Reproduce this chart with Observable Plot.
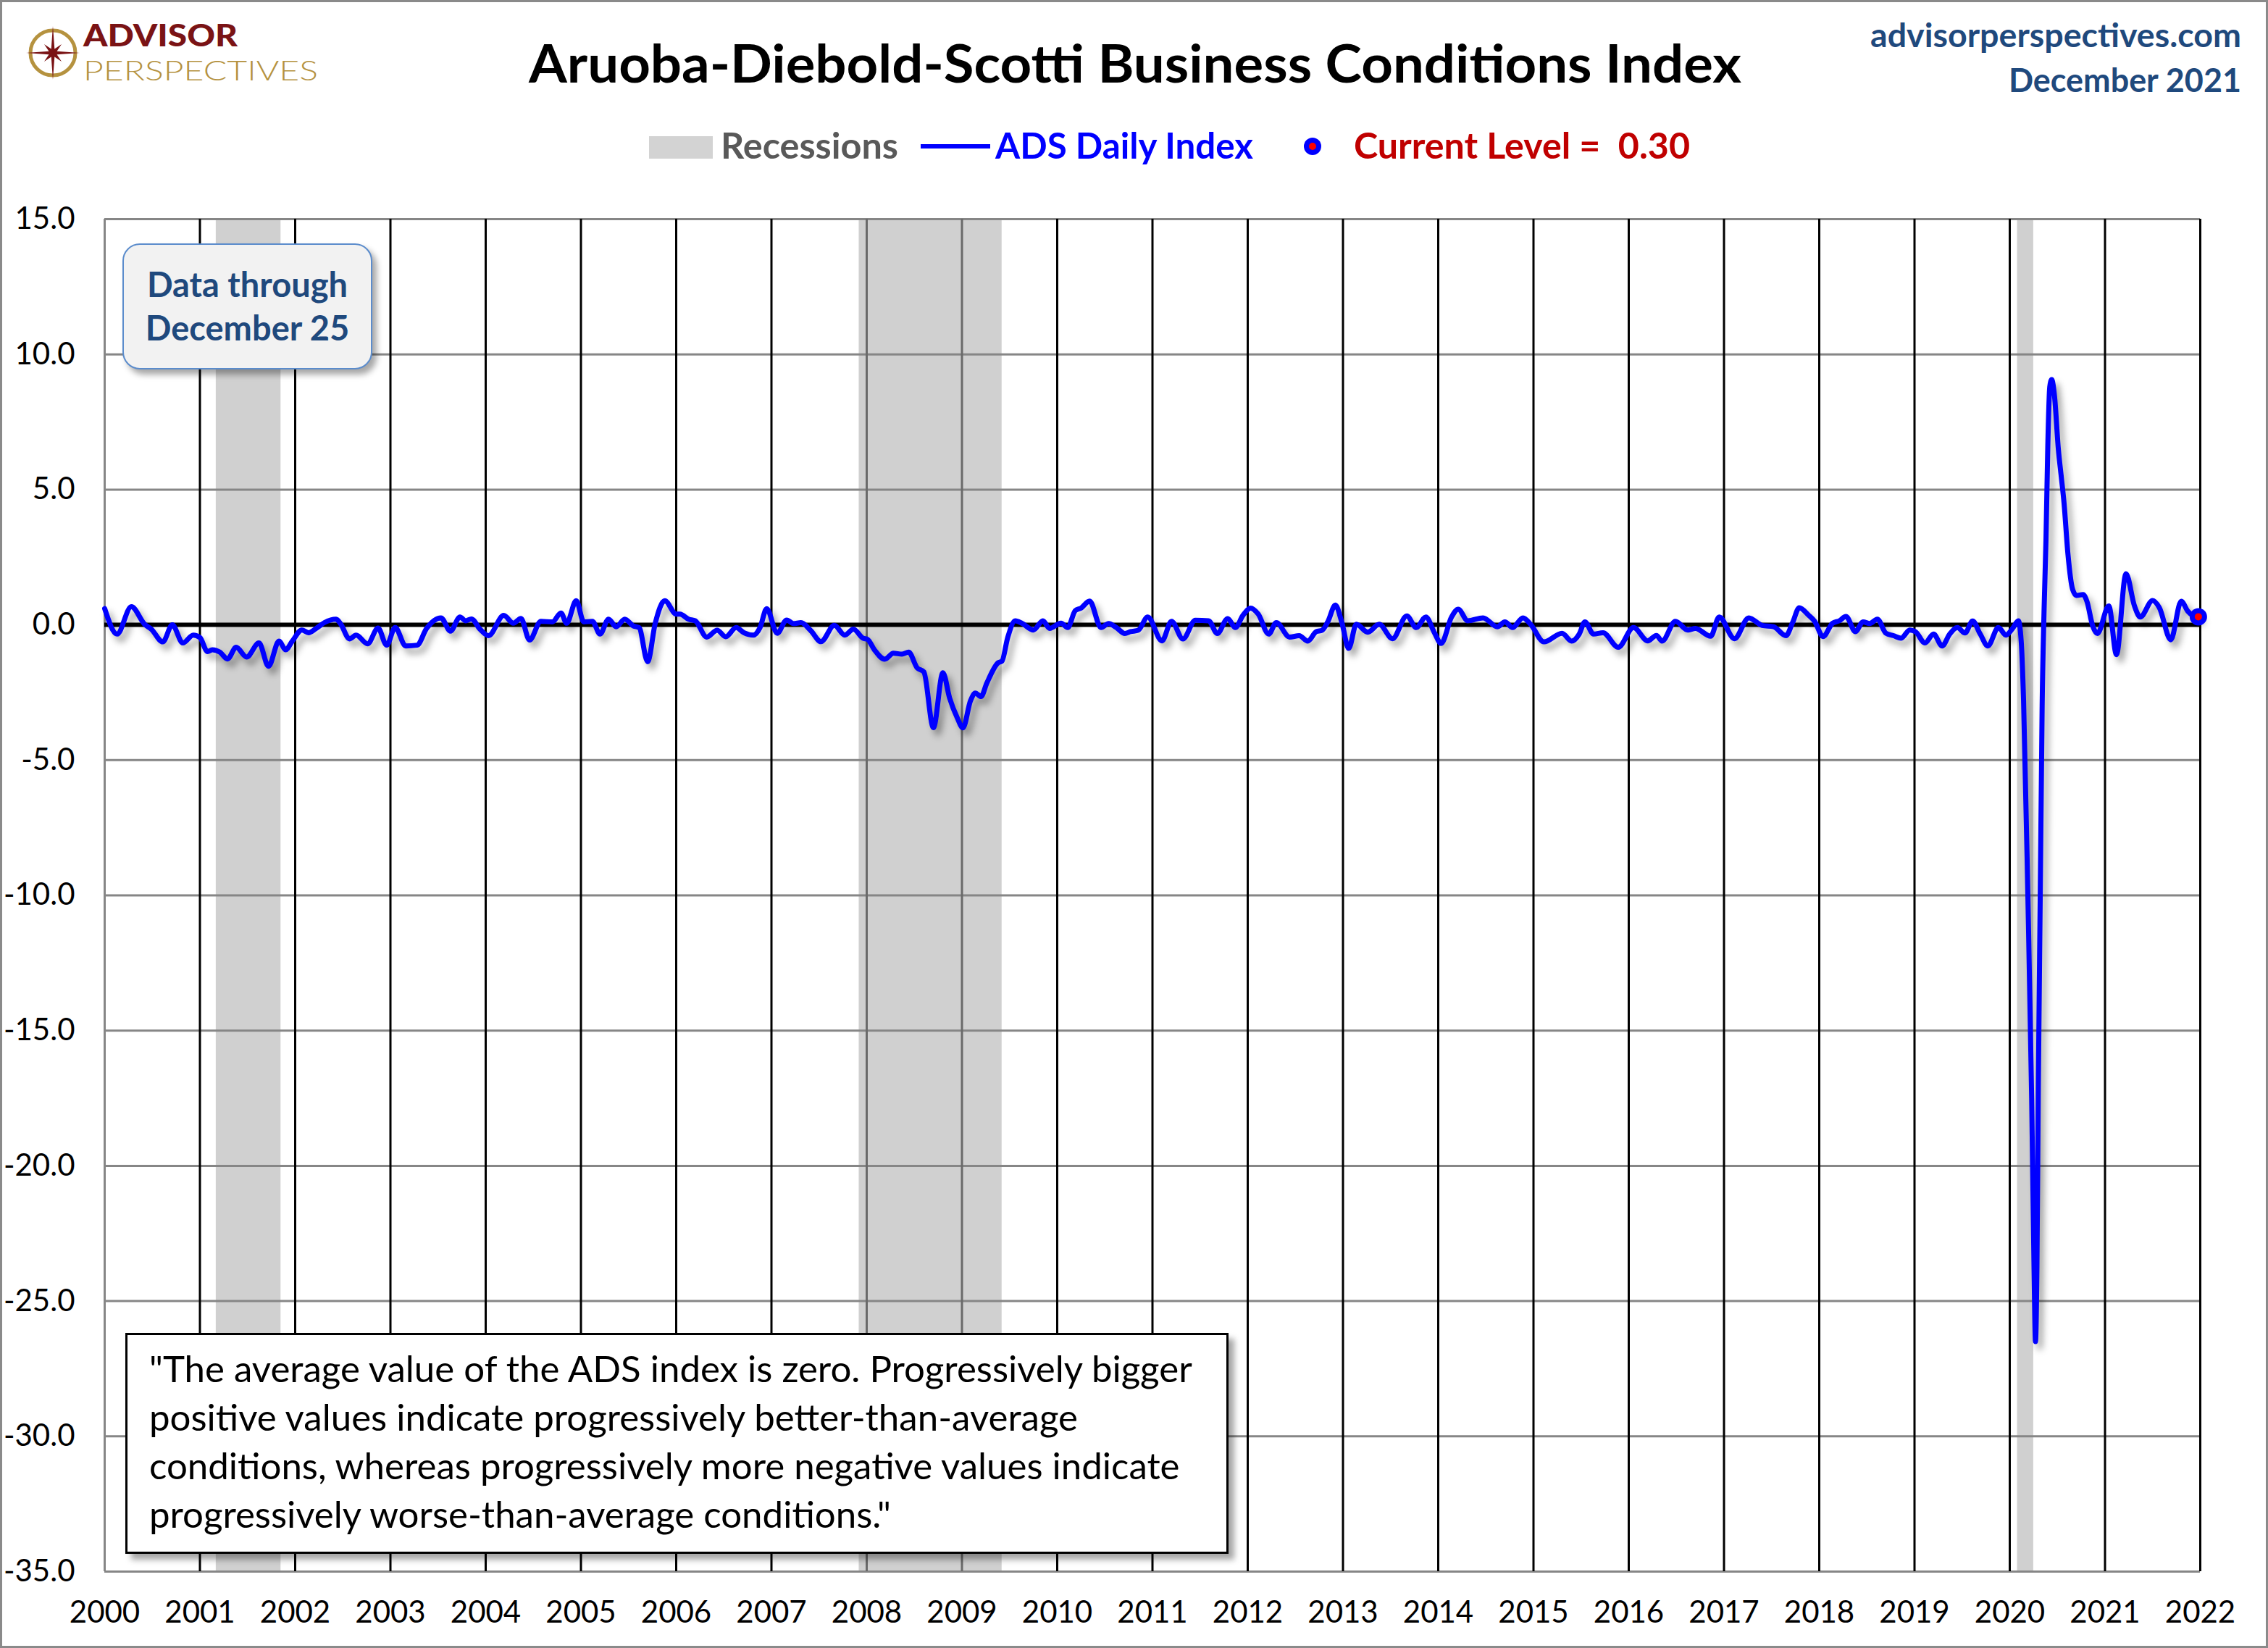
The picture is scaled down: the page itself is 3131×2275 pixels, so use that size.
<!DOCTYPE html>
<html>
<head>
<meta charset="utf-8">
<script src="https://cdn.jsdelivr.net/npm/d3@7"></script>
<script src="https://cdn.jsdelivr.net/npm/@observablehq/plot@0.6"></script>
<style>
html, body { margin: 0; padding: 0; background: #fff; overflow: hidden; }
#page { position: relative; width: 3131px; height: 2275px; background: #fff; overflow: hidden; font-family: Lato, "Open Sans", sans-serif; }
#header { position: absolute; left: 0; top: 0; }
#chart { position: absolute; left: 0; top: 250px; }
#frame { position: absolute; left: 0; top: 0; width: 3131px; height: 2275px; box-sizing: border-box; border: 3px solid #8a8a8a; pointer-events: none; }
.databox { position: absolute; left: 169px; top: 336px; width: 345px; height: 174px; box-sizing: border-box;
  background: #f2f2f2; border: 2px solid #5b8ccc; border-radius: 24px; box-shadow: 6px 7px 8px rgba(0,0,0,0.35);
  color: #1f497d; font-weight: 700; font-size: 47px; text-align: center; line-height: 60px; padding-top: 24px; white-space: nowrap; }
.quote { position: absolute; left: 173px; top: 1840px; width: 1523px; height: 305px; box-sizing: border-box;
  background: #fff; border: 3px solid #000; box-shadow: 8px 8px 8px rgba(0,0,0,0.35);
  font-size: 51px; line-height: 67px; padding-left: 30px; padding-top: 12px; white-space: nowrap; color: #000; }
</style>
</head>
<body>
<div id="page">
  <svg id="header" width="3131" height="250" xmlns="http://www.w3.org/2000/svg" font-family="Lato, 'Open Sans', sans-serif">
    <g id="compass" transform="translate(73,73)">
      <circle r="31" fill="none" stroke="#b5923f" stroke-width="5"></circle>
    </g>
    <text x="115" y="64" font-size="42" font-weight="900" fill="#7a1315" textLength="213" lengthAdjust="spacingAndGlyphs">ADVISOR</text>
    <text x="115" y="111" font-size="38" font-weight="300" fill="#b5923f" textLength="324" lengthAdjust="spacingAndGlyphs">PERSPECTIVES</text>
    <text x="1567" y="114" text-anchor="middle" font-size="72" font-weight="700" fill="#000" textLength="1674" lengthAdjust="spacingAndGlyphs">Aruoba-Diebold-Scotti Business Conditions Index</text>
    <text x="3094" y="65" text-anchor="end" font-size="45" font-weight="700" fill="#1f497d" textLength="512" lengthAdjust="spacingAndGlyphs">advisorperspectives.com</text>
    <text x="3094" y="127" text-anchor="end" font-size="45" font-weight="700" fill="#1f497d" textLength="321" lengthAdjust="spacingAndGlyphs">December 2021</text>
    <rect x="896" y="188" width="88" height="31" fill="#d3d3d3"></rect>
    <text x="995" y="219" font-size="50" font-weight="700" fill="#595959" textLength="245" lengthAdjust="spacingAndGlyphs">Recessions</text>
    <line x1="1271" x2="1367" y1="202" y2="202" stroke="#0000ff" stroke-width="6"></line>
    <text x="1374" y="219" font-size="50" font-weight="700" fill="#0000ff" textLength="356" lengthAdjust="spacingAndGlyphs">ADS Daily Index</text>
    <circle cx="1812" cy="202" r="12" fill="#0000ff"></circle>
    <circle cx="1812" cy="202" r="5" fill="#ff0000"></circle>
    <text x="1869" y="219" font-size="50" font-weight="700" fill="#c00000" style="white-space:pre" textLength="464" lengthAdjust="spacingAndGlyphs">Current Level =  0.30</text>
  </svg>
  <div id="chart"></div>
  <div class="databox">Data through<br>December 25</div>
  <div class="quote">"The average value of the ADS index is zero. Progressively bigger<br>positive values indicate progressively better-than-average<br>conditions, whereas progressively more negative values indicate<br>progressively worse-than-average conditions."</div>
  <div id="frame"></div>
</div>
<script>
// ---- Data ----
const years = [
  2000.00, 2000.13, 2000.28, 2000.42, 2000.49, 2000.61, 2000.71, 2000.82, 2000.93,
  2001.00, 2001.08, 2001.13, 2001.21, 2001.29, 2001.38, 2001.49, 2001.62, 2001.72, 2001.83, 2001.90, 2001.97,
  2002.07, 2002.14, 2002.22, 2002.31, 2002.43, 2002.48, 2002.57, 2002.64, 2002.76, 2002.87, 2002.96,
  2003.05, 2003.16, 2003.28, 2003.38, 2003.53, 2003.63, 2003.73, 2003.79, 2003.85, 2003.94,
  2004.03, 2004.19, 2004.29, 2004.37, 2004.46, 2004.58, 2004.70, 2004.79, 2004.85, 2004.95,
  2005.03, 2005.12, 2005.20, 2005.29, 2005.37, 2005.46, 2005.55, 2005.61, 2005.70, 2005.78, 2005.88,
  2006.00, 2006.04, 2006.13, 2006.20, 2006.32, 2006.43, 2006.52, 2006.63, 2006.71, 2006.81, 2006.88, 2006.95,
  2007.06, 2007.16, 2007.23, 2007.31, 2007.41, 2007.52, 2007.66, 2007.77, 2007.86, 2007.96,
  2008.01, 2008.08, 2008.19, 2008.28, 2008.37, 2008.44, 2008.53, 2008.60, 2008.70, 2008.80, 2008.87, 2008.95,
  2009.01, 2009.09, 2009.14, 2009.20, 2009.26, 2009.38, 2009.42, 2009.48, 2009.56, 2009.63, 2009.75, 2009.85, 2009.92,
  2010.04, 2010.11, 2010.19, 2010.25, 2010.34, 2010.46, 2010.54, 2010.62, 2010.71, 2010.77, 2010.85, 2010.95,
  2011.10, 2011.20, 2011.32, 2011.45, 2011.59, 2011.68, 2011.79, 2011.87, 2011.95,
  2012.03, 2012.11, 2012.22, 2012.30, 2012.44, 2012.54, 2012.63, 2012.72, 2012.78, 2012.84, 2012.92, 2012.99,
  2013.06, 2013.14, 2013.26, 2013.38, 2013.52, 2013.67, 2013.77, 2013.87, 2013.96,
  2014.03, 2014.14, 2014.21, 2014.31, 2014.47, 2014.62, 2014.70, 2014.78, 2014.89, 2014.97,
  2015.11, 2015.30, 2015.40, 2015.48, 2015.54, 2015.63, 2015.73, 2015.89,
  2016.05, 2016.20, 2016.29, 2016.35, 2016.49, 2016.62, 2016.70, 2016.86, 2016.95,
  2017.11, 2017.26, 2017.40, 2017.52, 2017.65, 2017.72, 2017.79, 2017.89, 2017.95,
  2018.04, 2018.14, 2018.21, 2018.28, 2018.38, 2018.46, 2018.53, 2018.61, 2018.70, 2018.78, 2018.86, 2018.95,
  2019.01, 2019.11, 2019.20, 2019.29, 2019.37, 2019.45, 2019.53, 2019.61, 2019.69, 2019.77, 2019.88, 2019.96,
  2020.03, 2020.09, 2020.12, 2020.145, 2020.19, 2020.23, 2020.255, 2020.27, 2020.285, 2020.30, 2020.32, 2020.34,
  2020.36, 2020.38, 2020.40, 2020.42, 2020.44, 2020.47, 2020.51, 2020.54, 2020.57, 2020.61, 2020.66, 2020.70,
  2020.77, 2020.81, 2020.87, 2020.92,
  2021.04, 2021.12, 2021.22, 2021.31, 2021.37, 2021.50, 2021.57, 2021.69, 2021.80, 2021.87, 2021.92, 2021.98
];
const values = [
  0.60, -0.34, 0.67, 0.02, -0.16, -0.63, 0.00, -0.67, -0.38,
  -0.47, -0.99, -0.92, -1.01, -1.26, -0.83, -1.19, -0.67, -1.53, -0.60, -0.92, -0.60,
  -0.19, -0.29, -0.13, 0.09, 0.21, 0.02, -0.52, -0.38, -0.70, -0.12, -0.75,
  -0.10, -0.78, -0.75, -0.13, 0.26, -0.23, 0.29, 0.15, 0.22, -0.16,
  -0.40, 0.35, 0.06, 0.24, -0.56, 0.13, 0.11, 0.44, 0.06, 0.89,
  0.11, 0.13, -0.34, 0.21, -0.07, 0.21, -0.04, -0.10, -1.36, 0.06, 0.89,
  0.40, 0.40, 0.21, 0.15, -0.45, -0.20, -0.44, -0.10, -0.29, -0.38, -0.10, 0.60,
  -0.31, 0.18, 0.05, 0.08, -0.20, -0.62, -0.02, -0.38, -0.16, -0.49,
  -0.54, -0.92, -1.27, -1.05, -1.08, -1.01, -1.59, -1.74, -3.80, -1.77, -2.70, -3.43,
  -3.81, -2.80, -2.52, -2.65, -2.16, -1.40, -1.34, -0.47, 0.15, 0.06, -0.19, 0.15, -0.13,
  0.06, -0.10, 0.53, 0.62, 0.88, -0.10, 0.05, -0.10, -0.32, -0.25, -0.20, 0.29,
  -0.59, 0.13, -0.52, 0.17, 0.15, -0.32, 0.23, -0.10, 0.35,
  0.62, 0.40, -0.34, 0.08, -0.45, -0.40, -0.60, -0.25, -0.20, 0.11, 0.73, 0.06,
  -0.87, 0.02, -0.27, 0.02, -0.51, 0.33, -0.10, 0.29, -0.29,
  -0.69, 0.29, 0.58, 0.15, 0.26, -0.07, 0.11, -0.10, 0.26, 0.02,
  -0.63, -0.31, -0.60, -0.34, 0.11, -0.34, -0.29, -0.83,
  -0.10, -0.59, -0.39, -0.60, 0.13, -0.19, -0.13, -0.42, 0.29,
  -0.51, 0.26, -0.02, -0.07, -0.40, 0.08, 0.63, 0.35, 0.14,
  -0.43, 0.06, 0.15, 0.31, -0.25, 0.11, 0.05, 0.21, -0.31, -0.40, -0.49, -0.19,
  -0.25, -0.67, -0.34, -0.78, -0.34, -0.10, -0.30, 0.14, -0.34, -0.78, -0.10, -0.38,
  -0.13, 0.15, -0.60, -2.80, -10.0, -17.5, -23.8, -26.5, -23.8, -17.0, -10.0, -3.0,
  0.50, 3.10, 6.70, 8.80, 9.07, 8.45, 6.50, 5.50, 4.50, 2.65, 1.31, 1.09,
  1.12, 0.87, -0.03, -0.32,
  0.70, -1.10, 1.89, 0.69, 0.29, 0.90, 0.64, -0.55, 0.87, 0.50, 0.35, 0.30
];
const recessionStart = [2001.17, 2007.92, 2020.08];
const recessionEnd   = [2001.85, 2009.42, 2020.25];
const xTicks = [2000, 2001, 2002, 2003, 2004, 2005, 2006, 2007, 2008, 2009, 2010, 2011,
                2012, 2013, 2014, 2015, 2016, 2017, 2018, 2019, 2020, 2021, 2022];
const yTicks = [-35, -30, -25, -20, -15, -10, -5, 0, 5, 10, 15];
const currentDate = 2021.98;
const currentLevel = 0.30;

// ---- Build tables ----
const series = years.map((x, i) => ({x, y: values[i]}));
const recessions = recessionStart.map((s, i) => ({start: s, end: recessionEnd[i]}));
const inRecession = x => recessions.some(r => x > r.start && x < r.end);
const current = [{x: currentDate, y: currentLevel}];

// ---- Logo star (decorative) ----
(function () {
  const g = document.getElementById("compass");
  const pts = d3.range(16).map(i => {
    const a = -Math.PI / 2 + i * Math.PI / 8;
    const r = i % 4 === 0 ? 37 : (i % 2 === 0 ? 17 : 6);
    return [r * Math.cos(a), r * Math.sin(a)];
  });
  const poly = document.createElementNS("http://www.w3.org/2000/svg", "polygon");
  poly.setAttribute("points", pts.map(p => p.join(",")).join(" "));
  poly.setAttribute("fill", "#7a1315");
  g.appendChild(poly);
})();

const chart = Plot.plot({
  width: 3131,
  height: 2025,
  marginLeft: 144,
  marginRight: 94,
  marginTop: 52,
  marginBottom: 106,
  style: {fontFamily: "Lato, 'Open Sans', sans-serif", fontSize: "42px", background: "transparent", color: "#000", overflow: "visible"},
  x: {type: "linear", domain: [2000, 2022], axis: null},
  y: {domain: [-35, 15], axis: null},
  color: {type: "identity"},
  marks: [
    Plot.rect(recessions, {x1: "start", x2: "end", fill: "#d0d0d0"}),
    Plot.ruleY(yTicks.filter(d => d !== 0), {stroke: "#868686", strokeWidth: 3}),
    Plot.ruleX(xTicks, {stroke: d => d === 2000 ? "#868686" : (inRecession(d) ? "#6a6a6a" : "#000000"), strokeWidth: 3}),
    Plot.ruleY([0], {stroke: "#000", strokeWidth: 6}),
    Plot.line(series, {x: "x", y: "y", stroke: "#0000ff", strokeWidth: 7, curve: "monotone-x"}),
    Plot.dot(current, {x: "x", y: "y", r: 12, fill: "#0000ff"}),
    Plot.dot(current, {x: "x", y: "y", r: 5, fill: "#ff0000"}),
    Plot.axisY(yTicks, {tickSize: 0, tickPadding: 41, tickFormat: d => d.toFixed(1), label: null, fontSize: 42}),
    Plot.axisX(xTicks, {tickSize: 0, tickPadding: 41, tickFormat: d => String(d), label: null, fontSize: 42})
  ]
});
const lineG = chart.querySelector('g[aria-label="line"]');
if (lineG) lineG.style.filter = "drop-shadow(6px 8px 5px rgba(0,0,0,0.35))";
document.getElementById("chart").appendChild(chart);
</script>
</body>
</html>
